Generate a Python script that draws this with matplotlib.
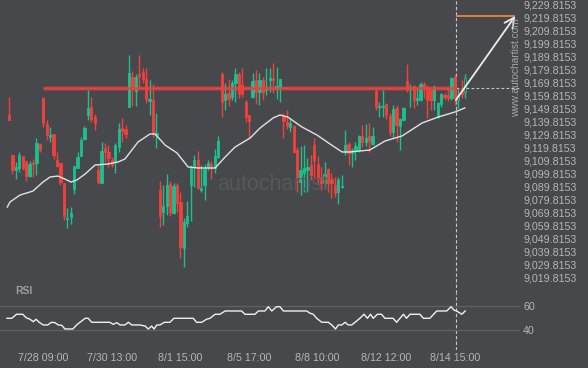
import matplotlib.pyplot as plt
import numpy as np

# hourly candles, oldest first
opens = [9144.8, 9114.1, 9102.5, 9104.1, 9113.3, 9108.7, 9097.9, 9107.9, 9107.9, 9122.5,
         9157.8, 9137.9, 9127.9, 9130.2, 9110.2, 9107.9, 9092.6, 9065.0, 9066.5, 9087.9,
         9104.1, 9113.3, 9126.4, 9144.8, 9150.9, 9143.2, 9102.5, 9092.6, 9119.4, 9116.4,
         9110.2, 9108.7, 9120.2, 9134.8, 9134.0, 9150.9, 9174.0, 9163.2, 9176.3, 9177.8,
         9172.4, 9155.5, 9156.3, 9129.4, 9087.2, 9070.3, 9074.9, 9091.8, 9069.5, 9091.0,
         9078.0, 9042.6, 9061.8, 9091.0, 9104.9, 9110.2, 9087.2, 9091.0, 9104.9, 9107.1,
         9104.1, 9112.5, 9176.3, 9156.3, 9161.7, 9158.6, 9169.4, 9176.3, 9167.8, 9154.8,
         9144.8, 9158.6, 9171.7, 9162.4, 9171.7, 9164.0, 9171.7, 9173.2, 9164.8, 9166.3,
         9144.0, 9139.4, 9135.6, 9136.3, 9117.9, 9093.3, 9100.2, 9102.5, 9106.4, 9121.7,
         9107.1, 9096.4, 9092.6, 9103.3, 9095.6, 9091.0, 9085.6, 9089.5, 9116.4, 9122.5,
         9115.6, 9117.9, 9117.9, 9128.7, 9124.0, 9128.7, 9122.5, 9163.2, 9150.9, 9150.9,
         9153.2, 9144.0, 9131.7, 9150.2, 9136.3, 9140.9, 9170.9, 9164.8, 9167.1, 9156.3,
         9156.3, 9168.6, 9166.3, 9164.0, 9156.3, 9143.2, 9153.2, 9160.1, 9160.1, 9157.8,
         9174.0, 9156.3, 9165.5, 9162.4]
highs = [9158.6, 9114.1, 9108.7, 9116.4, 9113.3, 9110.2, 9109.5, 9111.0, 9127.1, 9123.3,
         9158.6, 9140.9, 9135.6, 9130.2, 9116.4, 9107.9, 9092.6, 9073.4, 9074.1, 9105.6,
         9116.4, 9127.9, 9136.3, 9164.0, 9158.6, 9145.6, 9106.4, 9124.0, 9123.3, 9121.7,
         9112.5, 9123.3, 9138.7, 9142.5, 9137.1, 9190.9, 9178.6, 9176.3, 9190.9, 9180.9,
         9180.9, 9171.7, 9168.6, 9146.3, 9094.1, 9091.0, 9099.5, 9094.1, 9092.6, 9092.6,
         9085.6, 9065.7, 9078.8, 9106.4, 9114.1, 9117.1, 9106.4, 9107.1, 9110.2, 9109.5,
         9118.7, 9128.7, 9177.8, 9169.4, 9172.4, 9171.7, 9180.9, 9177.8, 9180.9, 9156.3,
         9144.8, 9177.0, 9179.3, 9177.0, 9174.0, 9180.9, 9180.9, 9184.7, 9181.6, 9172.4,
         9146.3, 9148.6, 9142.5, 9137.1, 9120.2, 9121.0, 9121.7, 9111.8, 9114.1, 9127.1,
         9113.3, 9104.9, 9108.7, 9104.1, 9100.2, 9097.2, 9097.2, 9098.7, 9133.3, 9124.0,
         9119.4, 9124.0, 9129.4, 9137.1, 9137.9, 9138.7, 9135.6, 9165.5, 9154.8, 9164.0,
         9154.0, 9146.3, 9152.5, 9152.5, 9142.5, 9150.9, 9184.0, 9168.6, 9167.8, 9165.5,
         9170.1, 9170.1, 9167.8, 9165.5, 9167.8, 9154.8, 9161.7, 9161.7, 9165.5, 9174.0,
         9176.3, 9165.5, 9171.7, 9176.3]
lows = [9140.9, 9099.5, 9095.6, 9101.0, 9102.5, 9094.1, 9097.2, 9097.2, 9098.7, 9116.4,
        9135.6, 9125.6, 9124.0, 9111.0, 9104.9, 9091.0, 9064.2, 9058.0, 9061.0, 9084.1,
        9104.1, 9113.3, 9125.6, 9140.9, 9139.4, 9133.3, 9091.8, 9092.6, 9108.7, 9104.9,
        9104.9, 9100.2, 9116.4, 9124.0, 9127.1, 9150.9, 9151.7, 9151.7, 9166.3, 9169.4,
        9154.0, 9144.8, 9127.9, 9119.4, 9058.8, 9060.3, 9068.0, 9067.2, 9068.8, 9070.3,
        9034.9, 9028.0, 9058.8, 9063.4, 9089.5, 9087.9, 9085.6, 9079.5, 9102.5, 9095.6,
        9100.2, 9111.8, 9143.2, 9148.6, 9151.7, 9156.3, 9155.0, 9157.8, 9158.6, 9139.4,
        9127.1, 9157.8, 9153.2, 9152.5, 9156.3, 9160.1, 9162.4, 9161.7, 9157.1, 9154.8,
        9127.1, 9134.0, 9131.7, 9115.6, 9085.6, 9083.3, 9085.6, 9085.6, 9094.9, 9096.4,
        9091.0, 9087.2, 9088.7, 9085.6, 9081.0, 9081.8, 9076.4, 9088.7, 9114.1, 9106.4,
        9104.9, 9110.2, 9116.4, 9120.2, 9121.0, 9116.4, 9121.7, 9148.6, 9143.2, 9143.2,
        9141.7, 9128.7, 9127.1, 9124.0, 9117.9, 9140.2, 9162.4, 9150.9, 9150.2, 9152.5,
        9155.5, 9157.8, 9142.5, 9148.6, 9148.6, 9142.5, 9150.9, 9156.3, 9155.5, 9156.3,
        9152.5, 9150.2, 9157.8, 9157.8]
closes = [9140.9, 9102.5, 9104.9, 9114.1, 9104.1, 9097.9, 9107.1, 9107.1, 9123.3, 9117.9,
          9138.7, 9129.4, 9129.4, 9114.1, 9105.6, 9093.3, 9067.2, 9066.0, 9069.5, 9105.6,
          9112.5, 9125.6, 9134.8, 9150.2, 9141.7, 9138.7, 9093.3, 9117.1, 9116.4, 9111.8,
          9106.4, 9121.7, 9134.0, 9132.5, 9130.2, 9177.0, 9165.5, 9174.0, 9174.7, 9172.4,
          9157.1, 9157.1, 9130.2, 9131.0, 9067.2, 9074.9, 9091.0, 9070.3, 9090.3, 9077.2,
          9043.4, 9062.6, 9067.2, 9104.1, 9110.2, 9088.7, 9088.7, 9103.3, 9107.9, 9104.1,
          9113.3, 9124.8, 9154.8, 9160.9, 9157.1, 9169.4, 9176.3, 9160.9, 9160.9, 9143.2,
          9140.2, 9170.9, 9162.4, 9171.7, 9162.4, 9165.5, 9173.2, 9171.7, 9167.1, 9172.4,
          9140.2, 9136.3, 9138.7, 9116.4, 9096.4, 9102.5, 9104.1, 9104.9, 9098.7, 9110.2,
          9094.9, 9092.6, 9099.5, 9092.6, 9092.6, 9084.9, 9094.9, 9090.3, 9121.7, 9115.6,
          9117.9, 9121.0, 9128.7, 9124.0, 9127.1, 9124.8, 9128.7, 9150.9, 9151.7, 9151.9,
          9144.8, 9131.7, 9149.4, 9137.1, 9141.7, 9150.2, 9164.0, 9165.5, 9156.3, 9157.8,
          9168.6, 9165.5, 9156.3, 9156.3, 9165.5, 9154.0, 9160.9, 9158.6, 9157.8, 9173.2,
          9157.8, 9160.1, 9160.9, 9173.2]
live = [131, 133]  # unfinished candles drawn hollow

# moving average, read as (candle index, price)
ma_idx = [-0.5, 0.3, 3.2, 7.0, 9.9, 12.0, 14.3, 16.3, 18.1, 19.8, 22.2, 25.1, 28.6, 31.8,
          33.8, 37.6, 41.1, 42.6, 45.5, 49.0, 52.2, 55.1, 60.1, 63.0, 65.9, 70.3, 73.2,
          77.0, 79.0, 81.3, 85.4, 89.8, 93.6, 97.1, 99.4, 105.2, 109.6, 114.6, 120.4,
          125.1, 130.0, 132.9]
ma_val = [9074.1, 9078.0, 9083.3, 9086.4, 9093.3, 9097.2, 9097.9, 9095.6, 9093.3, 9094.9,
          9099.5, 9106.4, 9107.1, 9108.7, 9111.0, 9124.0, 9130.2, 9130.2, 9121.7, 9115.6,
          9104.9, 9104.1, 9104.1, 9112.5, 9120.2, 9127.1, 9134.8, 9142.5, 9144.8, 9143.2,
          9135.6, 9129.4, 9122.5, 9116.4, 9116.4, 9117.9, 9124.8, 9128.7, 9138.6, 9143.2,
          9147.1, 9150.2]

# RSI, read as (candle index, value)
rsi_idx = [-0.6, 0.8, 2.2, 4.0, 5.0, 6.1, 7.1, 7.9, 8.8, 10.0, 11.3, 12.4, 13.4, 14.4, 15.4,
           16.3, 18.6, 19.9, 21.2, 22.2, 23.1, 24.1, 29.4, 30.4, 31.4, 32.4, 33.8, 34.8,
           35.8, 38.2, 39.7, 40.6, 41.6, 42.3, 43.1, 44.0, 45.3, 46.9, 48.1, 53.7, 54.7,
           56.2, 57.6, 58.6, 60.1, 61.5, 63.0, 67.8, 68.8, 71.7, 72.7, 74.6, 75.6, 76.6,
           78.0, 79.0, 80.0, 86.8, 87.8, 88.7, 89.7, 91.2, 93.1, 94.1, 95.2, 96.0, 97.0,
           98.0, 98.9, 99.9, 100.9, 102.3, 103.5, 104.5, 105.4, 106.2, 107.4, 108.6, 109.6,
           112.0, 113.0, 114.0, 115.0, 115.9, 116.9, 119.8, 120.8, 122.7, 124.7, 127.6,
           128.9, 129.7, 130.5, 132.0, 133.0]
rsi_val = [49.9, 49.9, 53.2, 53.2, 50.4, 49.1, 47.1, 49.1, 46.6, 44.4, 44.4, 46.6, 46.3,
           44.4, 44.1, 41.1, 41.1, 44.9, 47.7, 49.9, 49.9, 46.6, 46.6, 44.9, 46.3, 44.4,
           44.4, 46.6, 44.4, 44.4, 43.5, 41.1, 43.5, 41.1, 44.4, 44.4, 46.6, 46.6, 49.9,
           49.9, 46.6, 46.6, 49.1, 49.9, 53.2, 53.2, 55.9, 55.9, 53.2, 53.2, 55.9, 55.9,
           59.4, 55.9, 59.4, 59.4, 55.9, 55.9, 54.0, 53.2, 49.9, 46.6, 46.6, 44.4, 41.1,
           44.4, 44.4, 46.6, 44.4, 44.4, 46.6, 49.9, 53.2, 49.9, 53.2, 49.9, 53.2, 53.2,
           49.9, 49.9, 46.6, 49.9, 53.2, 49.9, 53.2, 53.2, 49.9, 49.9, 55.9, 55.9, 59.4,
           56.7, 55.9, 53.2, 55.9]

time_labels = ['7/28 09:00', '7/30 13:00', '8/1 15:00', '8/5 17:00', '8/8 10:00',
               '8/12 12:00', '8/14 15:00']
time_idx = [10, 30, 50, 70, 90, 110, 130]

level = 9165.8          # resistance
level_start = 10
signal_idx = 130.3      # breakout candle
arrow_from = 9156.3
target_idx = 147.6
target = 9220.8

price_ticks = [9019.8153 + 10 * k for k in range(22)]
rsi_ticks = [40, 60]

bg = '#46484c'
up = '#1dbf8e'
down = '#f2403d'
txt = '#b4b6ba'
plt.rcParams['font.family'] = ['Liberation Sans', 'DejaVu Sans']

fig = plt.figure(figsize=(5.88, 3.68), dpi=100, facecolor=bg)
ax = fig.add_axes([0, 1 - 293 / 368, 520 / 588, 293 / 368])
rax = fig.add_axes([0, 1 - 350 / 368, 520 / 588, 57 / 368])
for a in (ax, rax):
	a.set_facecolor(bg)
	a.patch.set_alpha(0)
	for s in a.spines.values():
		s.set_visible(False)
	a.set_xlim(-2.62, 148.98)

# candles
idx = np.arange(len(opens))
o = np.array(opens)
c = np.array(closes)
cols = [up if c[i] >= o[i] else down for i in idx]
ax.vlines(idx, lows, highs, colors=cols, lw=1, zorder=3)
face = [bg if i in live else cols[i] for i in idx]
ax.bar(idx, np.abs(c - o), bottom=np.minimum(o, c), width=0.66, color=face,
       edgecolor=cols, lw=0.6, zorder=4)

ax.plot(ma_idx, ma_val, color='#e2e2e2', lw=1.0, zorder=5)

# resistance line with a soft glow
ax.hlines(level, level_start, signal_idx, color=down, lw=3.4, alpha=0.35, zorder=2)
ax.hlines(level, level_start, signal_idx, color='#e8423f', lw=1.8, zorder=6)
ax.hlines(level, signal_idx, 148.98, color='#c8c8c8', lw=0.8, linestyles=(0, (2.5, 2)), zorder=2)

ax.axvline(signal_idx, color='#c8c8c8', lw=0.8, ls=(0, (3, 2)), zorder=1)
rax.axvline(signal_idx, color='#c8c8c8', lw=0.8, ls=(0, (3, 2)), zorder=1)

ax.hlines(target, signal_idx, target_idx, color='#f08040', lw=1.3, zorder=6)
ax.annotate('', xy=(target_idx, target), xytext=(signal_idx, arrow_from),
            arrowprops=dict(arrowstyle='->,head_length=0.7,head_width=0.35',
                            color='#ececec', lw=1.3, shrinkA=0, shrinkB=0), zorder=7)

ax.set_ylim(9008.1, 9233.1)
ax.yaxis.tick_right()
ax.set_yticks(price_ticks)
ax.set_yticklabels(['{:,.4f}'.format(v) for v in price_ticks])
ax.tick_params(axis='y', length=0, pad=2.2, labelsize=7.7, labelcolor=txt)
ax.set_xticks([])

# RSI panel
for v in rsi_ticks:
	rax.axhline(v, color='#5e6064', lw=1, zorder=1)
rax.plot(rsi_idx, rsi_val, color='#f0f0f0', lw=1.0, zorder=3)
rax.set_ylim(23.8, 70.7)
rax.yaxis.tick_right()
rax.set_yticks(rsi_ticks)
rax.tick_params(axis='y', length=0, pad=2.2, labelsize=7.7, labelcolor=txt)
rax.set_xticks(time_idx)
rax.set_xticklabels(time_labels)
rax.tick_params(axis='x', length=0, pad=2.5, labelsize=7.7, labelcolor=txt)

fig.text(15 / 588, 1 - 291 / 368, 'RSI', fontsize=7.5, fontweight='bold', color='#9c9ea2',
         ha='left', va='center')
fig.text(273 / 588, 1 - 185 / 368, 'autochartist', fontsize=15.5, color='#55575b',
         ha='center', va='center')
fig.text(516 / 588, 1 - 68 / 368, 'www.autochartist.com', fontsize=7.3, color='#a4a6aa',
         rotation=90, ha='center', va='center')

fig.savefig('out.png', dpi=100, facecolor=bg)
